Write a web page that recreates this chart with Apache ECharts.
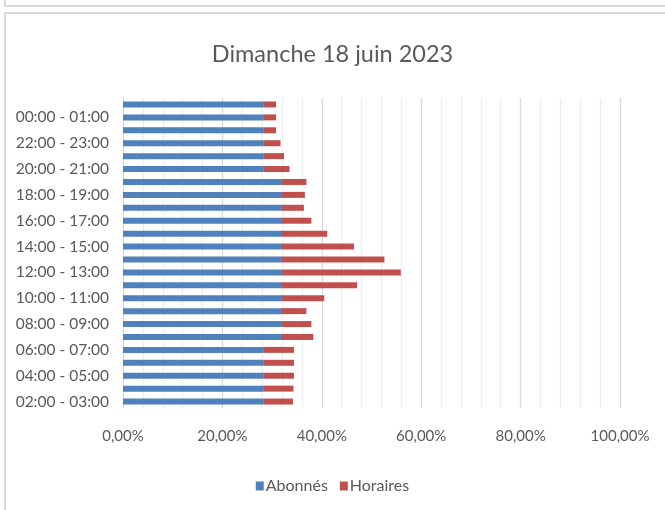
<!DOCTYPE html>
<html>
<head>
<meta charset="utf-8">
<script src="https://cdn.jsdelivr.net/npm/echarts@6/dist/echarts.min.js"></script>
<style>
html,body{margin:0;padding:0;background:#fff;}
#wrap{position:relative;width:665px;height:510px;overflow:hidden;}
#chart{position:absolute;left:0;top:0;width:665px;height:510px;}
.frame{position:absolute;border:2px solid #d9d9d9;pointer-events:none;}
</style>
</head>
<body>
<div id="wrap">
<div id="chart"></div>
<div class="frame" style="left:4px;top:-12px;width:700px;height:15px;"></div>
<div class="frame" style="left:4px;top:12px;width:700px;height:540px;"></div>
</div>
<script>
const categories = [
  "02:00 - 03:00","03:00 - 04:00","04:00 - 05:00","05:00 - 06:00","06:00 - 07:00",
  "07:00 - 08:00","08:00 - 09:00","09:00 - 10:00","10:00 - 11:00","11:00 - 12:00",
  "12:00 - 13:00","13:00 - 14:00","14:00 - 15:00","15:00 - 16:00","16:00 - 17:00",
  "17:00 - 18:00","18:00 - 19:00","19:00 - 20:00","20:00 - 21:00","21:00 - 22:00",
  "22:00 - 23:00","23:00 - 00:00","00:00 - 01:00","01:00 - 02:00"
];
const abonnes = [28.2,28.2,28.2,28.2,28.2, 32.0,32.0,32.0,32.0,32.0, 32.0,32.0,32.0,32.0,32.0, 32.0,32.0,32.0,28.2,28.2, 28.2,28.2,28.2,28.2];
const horaires = [6.0,6.1,6.2,6.2,6.2, 6.3,5.9,4.9,8.5,15.1, 23.9,20.6,14.5,9.1,5.9, 4.4,4.6,4.9,5.3,4.2, 3.5,2.6,2.6,2.6];
const xTicks = [0,20,40,60,80,100];
const title = "Dimanche 18 juin 2023";
const seriesNames = ["Abonnés","Horaires"];

const fontFam = "Lato, 'Open Sans', sans-serif";
const chart = echarts.init(document.getElementById('chart'), null, {renderer:'canvas'});
chart.setOption({
  animation:false,
  backgroundColor:'#fff',
  title:{text:title,left:'center',top:37,textStyle:{fontFamily:fontFam,fontSize:23.5,fontWeight:'normal',color:'#595959'}},
  legend:{data:seriesNames,top:473,left:'center',icon:'rect',itemWidth:8,itemHeight:9,itemGap:12,
    textStyle:{fontFamily:fontFam,fontSize:16,color:'#595959',padding:[0,0,0,-3]}},
  grid:{left:123,width:497,top:98,height:310,containLabel:false},
  xAxis:{type:'value',min:xTicks[0],max:xTicks[xTicks.length-1],interval:20,
    axisLine:{show:false},axisTick:{show:false},
    axisLabel:{fontFamily:fontFam,fontSize:15,color:'#595959',margin:21,
      formatter:v=>v.toFixed(2).replace('.',',')+'%'},
    splitLine:{show:true,lineStyle:{color:'#d9d9d9',width:1.3}},
    minorTick:{show:false,splitNumber:5},
    minorSplitLine:{show:true,lineStyle:{color:'#ededed',width:1.3}}
  },
  yAxis:{type:'category',data:categories,
    axisLine:{show:true,lineStyle:{color:'#d9d9d9',width:1}},axisTick:{show:false},
    axisLabel:{interval:1,fontFamily:fontFam,fontSize:15.5,color:'#595959',margin:14}
  },
  series:[
    {name:seriesNames[0],type:'bar',stack:'t',data:abonnes,barWidth:6,itemStyle:{color:'#4f81bd'}},
    {name:seriesNames[1],type:'bar',stack:'t',data:horaires,barWidth:6,itemStyle:{color:'#c0504d'}}
  ]
});
</script>
</body>
</html>
